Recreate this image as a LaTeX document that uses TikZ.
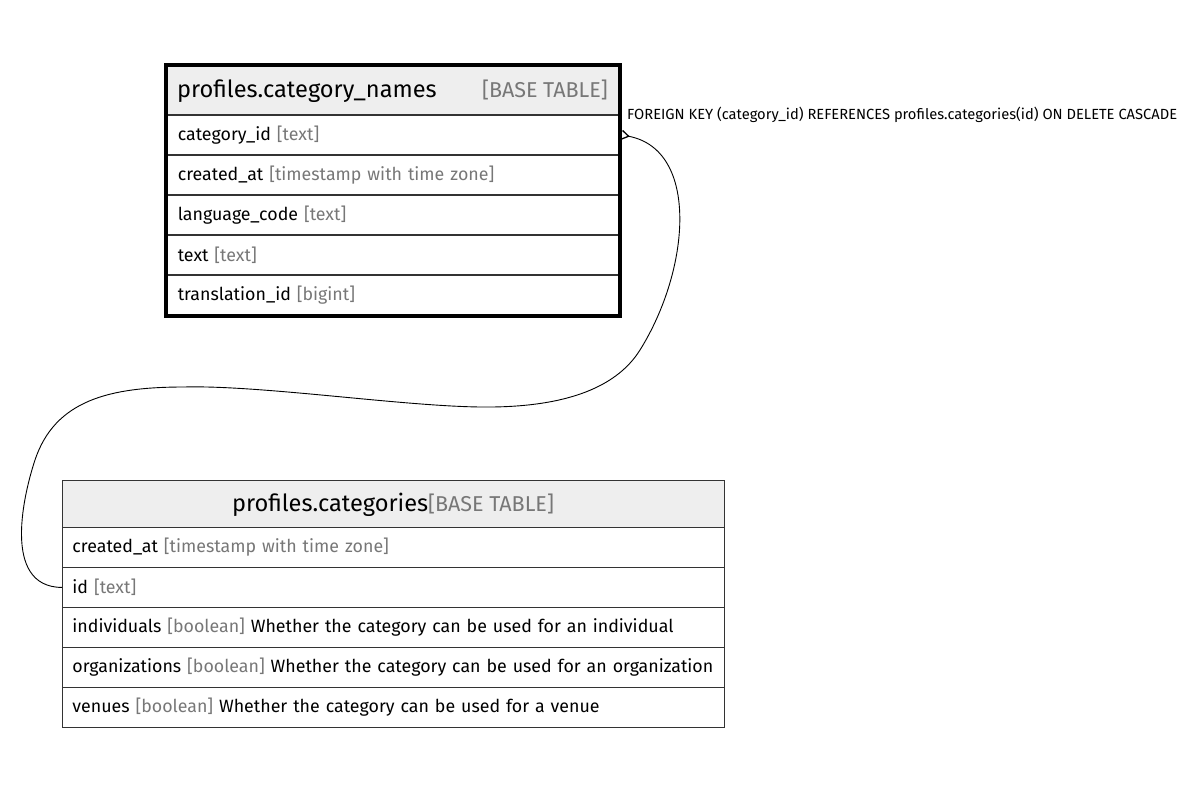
\documentclass[tikz,border=0pt]{standalone}
\usepackage{fontspec}
\setmainfont{Fira Sans}
\usetikzlibrary{arrows.meta}
\definecolor{hdrfill}{HTML}{EEEEEE}
\definecolor{typegray}{HTML}{777777}
\definecolor{sepgray}{HTML}{333333}
\newcommand{\ty}[1]{\textcolor{typegray}{#1}}
\begin{document}
\begin{tikzpicture}[x=1pt,y=-1pt,
  rowtop/.style={draw=sepgray, line width=1.6pt, rectangle, anchor=north west,
    minimum width=452pt, minimum height=40pt, text width=430pt, inner xsep=11pt,
    inner ysep=0pt, align=left, font=\fontsize{17.8}{20}\selectfont},
  rowbot/.style={draw=sepgray, line width=0.9pt, rectangle, anchor=north west,
    minimum width=662pt, minimum height=40pt, text width=642pt, inner xsep=10pt,
    inner ysep=0pt, align=left, font=\fontsize{17.8}{20}\selectfont},
  hdr/.style={fill=hdrfill, rectangle, anchor=north west, inner sep=0pt},
  hdrtext/.style={inner sep=0pt, font=\fontsize{23.6}{26}\selectfont},
  hdrtype/.style={inner sep=0pt, text=typegray, font=\fontsize{21.5}{24}\selectfont},
  fk/.style={draw=black, line width=0.9pt, {Straight Barb[reversed,length=7pt,width=9pt,line width=1.3pt]}-},
  fklabel/.style={inner sep=0pt, font=\fontsize{14.7}{17}\selectfont}
]
\useasboundingbox (0,0) rectangle (1187,789);

% ---------- table profiles.category_names ----------
\node[hdr, minimum width=452pt, minimum height=48.5pt] (h1) at (166,65.5) {};
\node[rowtop] (cn1) at (166,114) {category\_id \ty{[text]}};
\node[rowtop] (cn2) at (166,154) {created\_at \ty{[timestamp with time zone]}};
\node[rowtop] (cn3) at (166,194) {language\_code \ty{[text]}};
\node[rowtop] (cn4) at (166,234) {text \ty{[text]}};
\node[rowtop] (cn5) at (166,274) {translation\_id \ty{[bigint]}};
\draw[line width=4pt] (h1.north west) rectangle (cn5.south east);
\node[hdrtext, anchor=base west] (h1name) at (177,98) {profiles.category\_names};
\node[hdrtype, anchor=base east] (h1type) at (608,98) {[BASE TABLE]};

% ---------- table profiles.categories ----------
\node[hdr, draw=sepgray, line width=0.9pt, minimum width=662pt, minimum height=47pt] (h2) at (62,480) {};
\node[rowbot] (cp1) at (62,527) {created\_at \ty{[timestamp with time zone]}};
\node[rowbot] (cp2) at (62,567) {id \ty{[text]}};
\node[rowbot] (cp3) at (62,607) {individuals \ty{[boolean]} Whether the category can be used for an individual};
\node[rowbot] (cp4) at (62,647) {organizations \ty{[boolean]} Whether the category can be used for an organization};
\node[rowbot] (cp5) at (62,687) {venues \ty{[boolean]} Whether the category can be used for a venue};
\node[hdrtext, anchor=base] (h2name) at (393,511) {profiles.categories{\fontsize{21.5}{24}\selectfont\textcolor{typegray}{[BASE TABLE]}}};

% ---------- foreign key ----------
\draw[fk] ([xshift=1.5pt]cn1.east) .. controls (700,150) and (690,270) .. (640,350)
  .. controls (615,390) and (560,408) .. (480,407)
  .. controls (400,406) and (260,385) .. (184,387)
  .. controls (110,387) and (55,400) .. (35,460)
  .. controls (25,490) and (0,587) .. (cp2.west);
\node[fklabel, anchor=base west] (fkl) at (627,120) {FOREIGN KEY (category\_id) REFERENCES profiles.categories(id) ON DELETE CASCADE};
\end{tikzpicture}
\end{document}
